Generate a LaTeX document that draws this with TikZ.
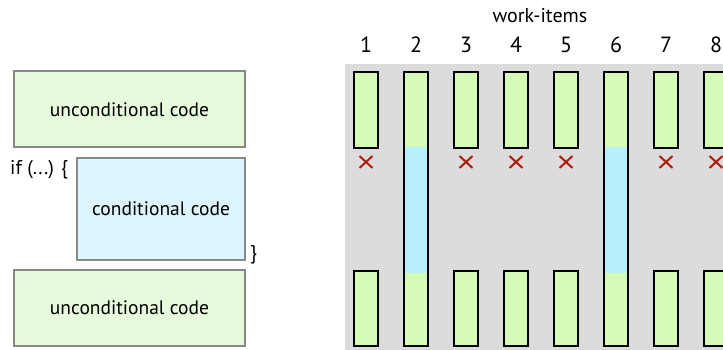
\documentclass[tikz,border=0pt]{standalone}
\usepackage{fontspec}
\setmainfont{PT Sans}
\definecolor{lgreen}{HTML}{E8FADC}
\definecolor{lblue}{HTML}{DDF5FC}
\definecolor{bgreen}{HTML}{D4FCB6}
\definecolor{bblue}{HTML}{B8EFFC}
\definecolor{bggray}{HTML}{DCDCDC}
\definecolor{boxgray}{HTML}{888888}
\definecolor{xred}{HTML}{B01E10}
\begin{document}
\begin{tikzpicture}[x=1pt,y=-1pt,
  codebox/.style={draw=boxgray,line width=2pt,inner sep=0pt,font=\fontsize{19.5}{22}\selectfont},
  bar/.style={draw=black,line width=2pt},
  cross/.style={xred,line width=2pt},
  lbl/.style={inner sep=0pt,anchor=base}]
\useasboundingbox (0,0) rectangle (723,350);
% left
\node[codebox,fill=lgreen,minimum width=231pt,minimum height=76pt] (u1) at (129.5,109.5) {unconditional code};
\node[codebox,fill=lblue,minimum width=168pt,minimum height=102pt] (c1) at (161,209) {conditional code};
\node[codebox,fill=lgreen,minimum width=231pt,minimum height=76pt] (u2) at (129.5,308) {unconditional code};
\node[lbl,anchor=base west,font=\fontsize{20}{22}\selectfont] (iftxt) at (10,175) {if (...) \{};
\node[lbl,anchor=base west,font=\fontsize{20}{22}\selectfont] (brace) at (250,259) {\}};
% right
\fill[bggray] (345,64) rectangle (723,350);
\node[lbl,font=\fontsize{20}{22}\selectfont] (wi) at (540,22.5) {work-items};
\foreach \i in {1,...,8}{
  \pgfmathsetmacro{\cx}{366+50*(\i-1)}
  \node[lbl,font=\fontsize{22}{24}\selectfont] (n\i) at (\cx,53) {\i};
}
\foreach \i in {1,3,4,5,7,8}{
  \pgfmathsetmacro{\cx}{366+50*(\i-1)}
  \draw[bar,fill=bgreen] (\cx-12,72) rectangle (\cx+12,148);
  \draw[bar,fill=bgreen] (\cx-12,271) rectangle (\cx+12,346);
  \draw[cross] (\cx-6.5,156) -- (\cx+6.5,168) (\cx-6.5,168) -- (\cx+6.5,156);
}
\foreach \i in {2,6}{
  \pgfmathsetmacro{\cx}{366+50*(\i-1)}
  \fill[bgreen] (\cx-12,72) rectangle (\cx+12,147);
  \fill[bblue] (\cx-12,147) rectangle (\cx+12,273);
  \fill[bgreen] (\cx-12,273) rectangle (\cx+12,346);
  \draw[bar] (\cx-12,72) rectangle (\cx+12,346);
}
\end{tikzpicture}
\end{document}
